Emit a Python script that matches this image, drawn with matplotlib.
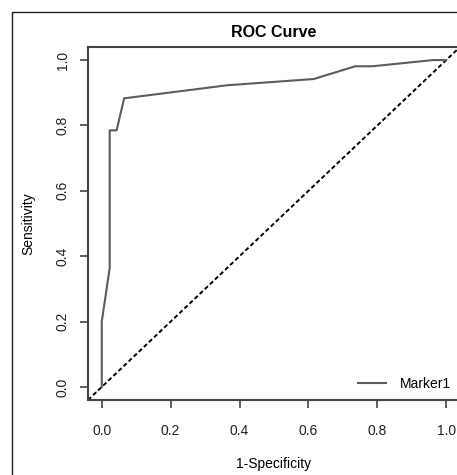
import matplotlib
matplotlib.use("Agg")
import matplotlib.pyplot as plt
from matplotlib.patches import Rectangle

plt.rcParams['font.family'] = ['Liberation Sans', 'DejaVu Sans']

# ROC curve points
fpr = [0.0, 0.0, 0.023, 0.023, 0.043, 0.065, 0.365, 0.615, 0.736, 0.785, 0.962, 1.0]
tpr = [0.0, 0.2, 0.364, 0.785, 0.785, 0.883, 0.923, 0.942, 0.981, 0.981, 1.0, 1.0]
ticks = [0.0, 0.2, 0.4, 0.6, 0.8, 1.0]
tick_labels = ["0.0", "0.2", "0.4", "0.6", "0.8", "1.0"]

W, H = 457, 475
fig = plt.figure(figsize=(W / 100, H / 100), dpi=100)

# thin outer frame of the panel
fig.patches.append(Rectangle((12 / W, -0.1), 1.2, 1 - 12 / H + 0.1,
                             transform=fig.transFigure, fill=False,
                             edgecolor="#222222", linewidth=1.0))

ax = fig.add_axes([88 / W, 1 - 400 / H, 372 / W, 353 / H])
ax.set_xlim(-0.04, 1.04)
ax.set_ylim(-0.04, 1.04)

ax.plot([-0.04, 1.04], [-0.04, 1.04], color="black", lw=1.4,
        dashes=(2.2, 1.4))
ax.plot(fpr, tpr, color="#5c5c5c", lw=1.5, label="Marker1")

for s in ax.spines.values():
    s.set_linewidth(1.5)
    s.set_color("#444444")

ax.set_xticks(ticks)
ax.set_xticklabels(tick_labels)
ax.set_yticks(ticks)
ax.set_yticklabels(tick_labels, rotation=90, va="center")
ax.tick_params(axis="both", length=6, width=1.2, color="#444444",
               labelsize=10, labelcolor="#222222")
ax.tick_params(axis="x", pad=11)
ax.tick_params(axis="y", pad=7)

ax.set_title("ROC Curve", fontsize=11.5, fontweight="bold", pad=7)
ax.set_xlabel("1-Specificity", fontsize=10, labelpad=14)
ax.set_ylabel("Sensitivity", fontsize=10, labelpad=15)

ax.legend(loc="lower right", frameon=False, fontsize=10,
          handlelength=2.0, handletextpad=1.0,
          bbox_to_anchor=(1.0, 0.0), borderaxespad=0.25)

fig.savefig("out.png", dpi=100)
